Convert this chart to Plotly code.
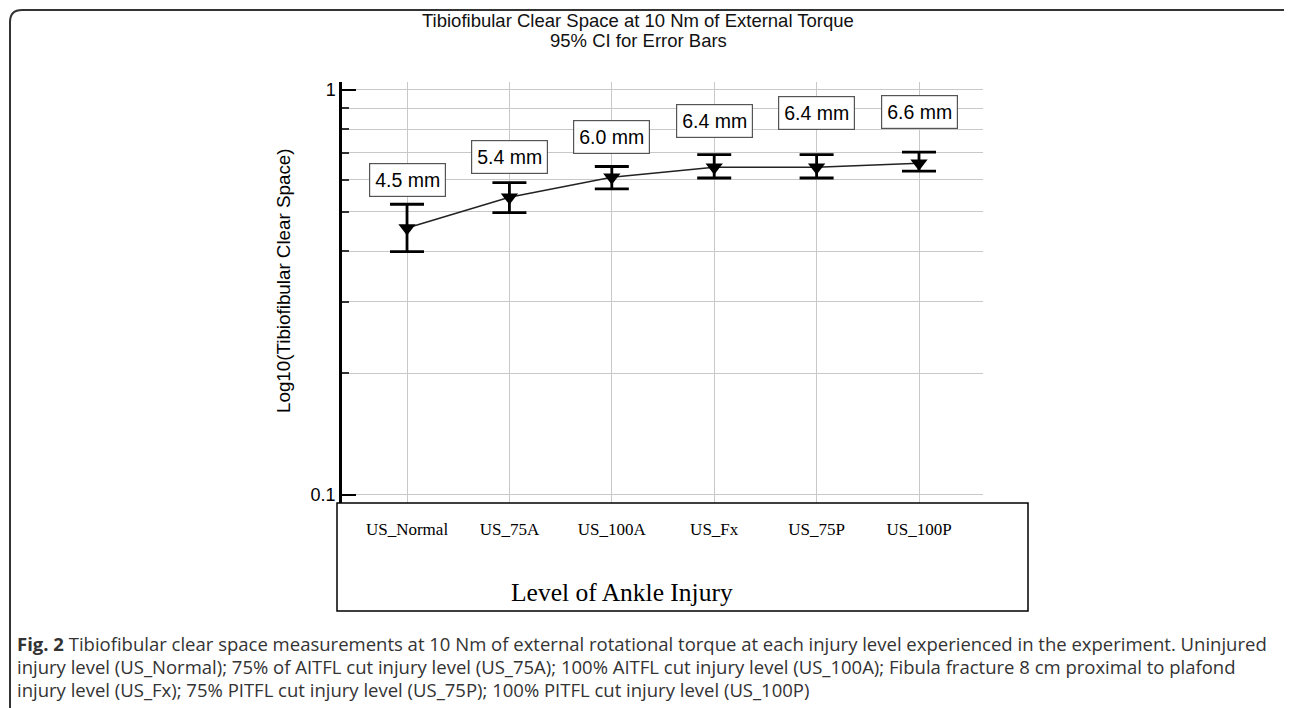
import math
import plotly.graph_objects as go

categories = ["US_Normal", "US_75A", "US_100A", "US_Fx", "US_75P", "US_100P"]
means = [0.456, 0.543, 0.609, 0.644, 0.644, 0.659]
ci_upper = [0.522, 0.590, 0.647, 0.692, 0.692, 0.702]
ci_lower = [0.399, 0.498, 0.570, 0.606, 0.606, 0.630]
value_labels = ["4.5 mm", "5.4 mm", "6.0 mm", "6.4 mm", "6.4 mm", "6.6 mm"]
label_shift = [24, 26, 30, 34, 42, 40]

# the page body has an 8px margin: figure is drawn 8px right/down of page origin
OFF = 8
W, H = 1292 - OFF, 708 - OFF
# plot area in page coordinates
L, R, T, B = 342, 983, 82, 503
xi = list(range(len(categories)))

fig = go.Figure()
fig.add_trace(go.Scatter(
    x=xi, y=means, mode="lines+markers",
    line=dict(color="#222", width=1.5),
    marker=dict(symbol="triangle-down", size=15, color="black"),
    error_y=dict(type="data", symmetric=False,
                 array=[u - m for u, m in zip(ci_upper, means)],
                 arrayminus=[m - l for m, l in zip(means, ci_lower)],
                 color="black", thickness=2.8, width=17),
    showlegend=False, cliponaxis=False,
))

for i, (u, lab, s) in enumerate(zip(ci_upper, value_labels, label_shift)):
    fig.add_annotation(x=i, y=math.log10(u), text=lab, showarrow=False,
                       yshift=s, font=dict(family="Arial, Liberation Sans", size=19.5, color="black"),
                       bordercolor="#555", borderwidth=1.2, borderpad=5, bgcolor="white")


def px(x):
    return (x - L) / (R - L)


def py(y):
    return (B - y) / (B - T)


fig.add_shape(type="rect", xref="paper", yref="paper",
              x0=px(337), x1=px(1028), y0=py(503), y1=py(611),
              line=dict(color="black", width=1.5), layer="above")
fig.add_shape(type="path", xref="paper", yref="paper",
              path=("M {a},{b} L {a},{c} Q {a},{d} {e},{d} L {f},{d} Q {g},{d} {g},{c} L {g},{h}").format(
                  a=px(10), b=py(712), c=py(22), d=py(10), e=px(22), f=px(1283), g=px(1295), h=py(712)),
              line=dict(color="#333", width=2), layer="above")

fig.add_annotation(xref="paper", yref="paper", x=px(638), y=py(21), yanchor="middle",
                   text="Tibiofibular Clear Space at 10 Nm of External Torque", showarrow=False,
                   font=dict(family="Arial, Liberation Sans", size=18.5, color="#111"))
fig.add_annotation(xref="paper", yref="paper", x=px(638), y=py(41), yanchor="middle",
                   text="95% CI for Error Bars", showarrow=False,
                   font=dict(family="Arial, Liberation Sans", size=18.5, color="#111"))
fig.add_annotation(xref="paper", yref="paper", x=px(283), y=py(281), textangle=-90,
                   xanchor="center", yanchor="middle",
                   text="Log10(Tibiofibular Clear Space)", showarrow=False,
                   font=dict(family="Arial, Liberation Sans", size=18.8, color="black"))
fig.add_annotation(xref="paper", yref="paper", x=px(622), y=py(592), yanchor="middle",
                   text="Level of Ankle Injury", showarrow=False,
                   font=dict(family="Liberation Serif, Times New Roman", size=25.5, color="black"))

caption = [
    "<b>Fig. 2</b> Tibiofibular clear space measurements at 10 Nm of external rotational torque at each injury level experienced in the experiment. Uninjured",
    "injury level (US_Normal); 75% of AITFL cut injury level (US_75A); 100% AITFL cut injury level (US_100A); Fibula fracture 8 cm proximal to plafond",
    "injury level (US_Fx); 75% PITFL cut injury level (US_75P); 100% PITFL cut injury level (US_100P)",
]
for k, line in enumerate(caption):
    fig.add_annotation(xref="paper", yref="paper", x=px(15), y=py(643 + 23 * k), xanchor="left",
                       yanchor="middle", text=line, showarrow=False,
                       font=dict(family="Open Sans", size=18.5, color="#333"))

fig.update_layout(
    width=W, height=H,
    margin=dict(l=L - OFF, r=W - (R - OFF), t=T - OFF, b=H - (B - OFF)),
    paper_bgcolor="white", plot_bgcolor="white",
    xaxis=dict(range=[-0.635, 5.625], tickmode="array", tickvals=xi, ticktext=categories,
               showgrid=True, gridcolor="#c8c8c8", gridwidth=1, zeroline=False,
               showline=False, ticks="", ticklabelstandoff=14,
               tickfont=dict(family="Liberation Serif, Times New Roman", size=17, color="black")),
    yaxis=dict(type="log", range=[-1.0198, 0.0195], tickmode="array", tickvals=[0.1, 1],
               ticktext=["0.1", "1"], ticks="inside", ticklen=14, tickwidth=2, tickcolor="black",
               showline=True, linecolor="black", linewidth=2.5, mirror=False,
               showgrid=True, gridcolor="#c8c8c8", gridwidth=1, zeroline=False,
               minor=dict(tickmode="array", tickvals=[0.2, 0.3, 0.4, 0.5, 0.6, 0.7, 0.8, 0.9],
                          ticks="inside", ticklen=7, tickwidth=1.5, tickcolor="#333",
                          showgrid=True, gridcolor="#c8c8c8", gridwidth=1),
               tickfont=dict(family="Arial, Liberation Sans", size=18, color="black")),
)

fig.write_html("out.html")
